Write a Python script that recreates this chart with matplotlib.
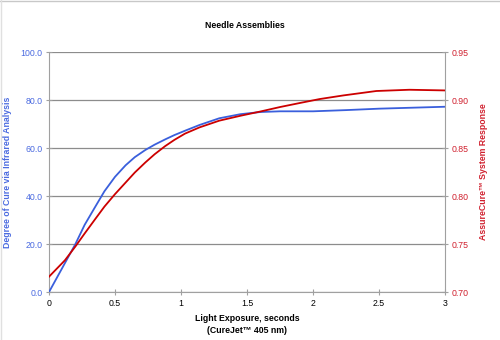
import matplotlib
matplotlib.use('Agg')
import matplotlib.pyplot as plt
from matplotlib.lines import Line2D

plt.rcParams['font.family'] = ['Liberation Sans', 'DejaVu Sans']

# readings
seconds_ir = [0, 0.12, 0.2, 0.27, 0.35, 0.42, 0.5, 0.58, 0.65, 0.73, 0.8, 0.88, 0.95,
              1.03, 1.14, 1.29, 1.45, 1.6, 1.75, 2.0, 2.25, 2.5, 2.75, 3.0]
cure_pct = [0, 12, 20, 28, 35.5, 42, 48, 52.8, 56.2, 59.2, 61.4, 63.6, 65.4,
            67.2, 69.6, 72.4, 74.1, 75.0, 75.3, 75.3, 75.8, 76.4, 76.8, 77.2]

seconds_ac = [0, 0.12, 0.2, 0.27, 0.35, 0.42, 0.5, 0.58, 0.65, 0.73, 0.8, 0.88, 0.95,
              1.03, 1.14, 1.29, 1.45, 1.6, 1.75, 1.9, 2.05, 2.23, 2.48, 2.73, 3.0]
response = [0.716, 0.733, 0.7475, 0.761, 0.776, 0.789, 0.802, 0.814, 0.8245, 0.835, 0.8435,
            0.852, 0.8585, 0.865, 0.8715, 0.8785, 0.8836, 0.888, 0.8927, 0.8969, 0.901,
            0.9048, 0.9094, 0.9107, 0.910]

left_ticks = [0, 20, 40, 60, 80, 100]
right_ticks = [0.70, 0.75, 0.80, 0.85, 0.90, 0.95]
x_ticks = [0, 0.5, 1, 1.5, 2, 2.5, 3]

blue = '#3a5fdc'
red = '#cc0000'
lab_blue = '#4a6ae0'
lab_red = '#d0202e'
grey = '#a0a0a0'
fs = 6.3

fig = plt.figure(figsize=(5, 3.4), dpi=100)
ax = fig.add_axes([0.098, 0.141, 0.792, 0.706])
ax2 = ax.twinx()

ax.plot(seconds_ir, cure_pct, color=blue, lw=1.3, zorder=3)
ax2.plot(seconds_ac, response, color=red, lw=1.3, zorder=3)

ax.set_xlim(0, 3)
ax.set_ylim(0, 100)
ax2.set_ylim(0.70, 0.95)
ax.set_xticks(x_ticks)
ax.set_xticklabels(['0', '0.5', '1', '1.5', '2', '2.5', '3'])
ax.set_yticks(left_ticks)
ax.set_yticklabels(['%.1f' % v for v in left_ticks])
ax2.set_yticks(right_ticks)
ax2.set_yticklabels(['%.2f' % v for v in right_ticks])

ax.yaxis.grid(True, color='#8c8c8c', lw=0.9)
ax.set_axisbelow(True)

for a in (ax, ax2):
    for s in a.spines.values():
        s.set_visible(False)
ax.spines['left'].set_visible(True)
ax.spines['left'].set_color(grey)
ax.spines['bottom'].set_visible(True)
ax.spines['bottom'].set_color(grey)
ax2.spines['right'].set_visible(True)
ax2.spines['right'].set_color(grey)

ax.tick_params(axis='y', direction='inout', length=5, color=grey, labelsize=fs,
               labelcolor=lab_blue, pad=2)
ax.tick_params(axis='x', direction='inout', length=4, color=grey, labelsize=fs,
               labelcolor='black', pad=3)
ax2.tick_params(axis='y', direction='inout', length=5, color=grey, labelsize=fs,
                labelcolor=lab_red, pad=2)

ax.set_ylabel('Degree of Cure via Infrared Analysis', color=lab_blue,
              fontsize=fs, fontweight='bold', labelpad=6)
ax2.set_ylabel('AssureCure\u2122 System Response', color=lab_red,
               fontsize=fs, fontweight='bold', labelpad=8, rotation=90)
ax.set_xlabel('Light Exposure, seconds\n(CureJet\u2122 405 nm)', fontsize=fs,
              fontweight='bold', labelpad=4, linespacing=1.5)
fig.text(0.49, 0.925, 'Needle Assemblies', ha='center', va='center',
         fontsize=fs, fontweight='bold')

# thin frame at top and left of the picture
fig.add_artist(Line2D([0, 1], [0.998, 0.998], transform=fig.transFigure,
                      color='#c8c8c8', lw=1))
fig.add_artist(Line2D([0.002, 0.002], [0, 1], transform=fig.transFigure,
                      color='#e0e0e0', lw=1))

fig.savefig('out.png', dpi=100)
